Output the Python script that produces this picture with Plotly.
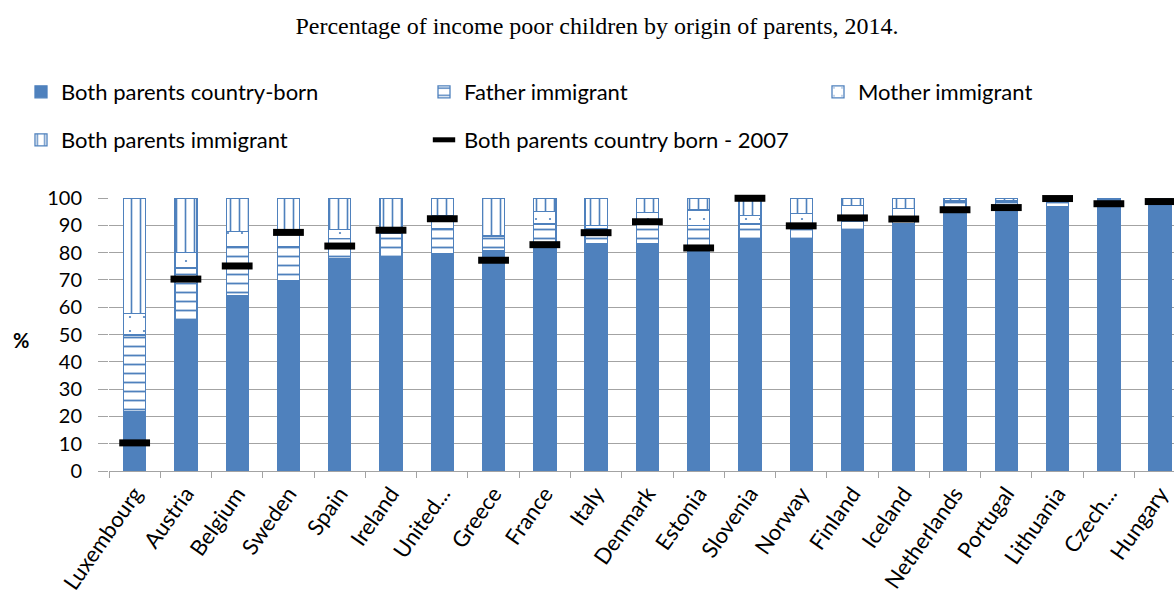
import plotly.graph_objects as go

# Share of income-poor children by parents' origin, 2014 (percent)
countries = ["Luxembourg", "Austria", "Belgium", "Sweden", "Spain", "Ireland", "United...",
             "Greece", "France", "Italy", "Denmark", "Estonia", "Slovenia", "Norway",
             "Finland", "Iceland", "Netherlands", "Portugal", "Lithuania", "Czech...", "Hungary"]
both_country_born = [21.8, 54.9, 64.3, 69.8, 77.8, 78.5, 79.8, 80.8, 81.7, 83.2, 83.3,
                     80.2, 85.0, 85.1, 88.1, 90.6, 95.0, 97.0, 96.7, 99.6, 99.7]
father_immigrant = [28.0, 19.5, 17.9, 12.4, 7.4, 8.5, 8.9, 5.2, 8.8, 5.5, 7.2,
                    9.7, 5.5, 3.9, 3.4, 2.4, 3.5, 1.5, 2.0, 0.4, 0.3]
mother_immigrant = [8.0, 5.7, 5.6, 6.3, 3.2, 1.5, 4.8, 0.3, 4.6, 1.2, 4.3,
                    5.7, 3.0, 5.4, 5.7, 3.1, 0.5, 0.5, 0.8, 0.0, 0.0]
both_immigrant = [42.2, 19.9, 12.2, 11.5, 11.6, 11.5, 6.5, 13.7, 4.9, 10.1, 5.2,
                  4.4, 6.5, 5.6, 2.8, 3.9, 1.0, 1.0, 0.5, 0.0, 0.0]
country_born_2007 = [10.3, 70.3, 75.1, 87.4, 82.4, 88.2, 92.4, 77.2, 82.9, 87.3, 91.3,
                     81.7, 99.9, 89.8, 92.7, 92.3, 95.7, 96.5, 99.8, 97.9, 98.7]
y_ticks = [0, 10, 20, 30, 40, 50, 60, 70, 80, 90, 100]

BLUE = "#4F81BD"
GRID = "#a3a3a3"
SANS = "Lato, 'Open Sans', sans-serif"

bar_w = 0.43
outline = dict(color=BLUE, width=1.3)

fig = go.Figure()
fig.add_trace(go.Bar(
    x=countries, y=both_country_born, name="Both parents country-born",
    width=bar_w, marker=dict(color=BLUE, line=outline), legend="legend"))
fig.add_trace(go.Bar(
    x=countries, y=father_immigrant, name="Father immigrant", width=bar_w,
    marker=dict(color=BLUE, line=outline,
                pattern=dict(shape="-", fillmode="replace", bgcolor="white",
                             fgcolor=BLUE, size=9, solidity=0.2)),
    legend="legend"))
fig.add_trace(go.Bar(
    x=countries, y=mother_immigrant, name="Mother immigrant", width=bar_w,
    marker=dict(color=BLUE, line=outline,
                pattern=dict(shape=".", fillmode="replace", bgcolor="white",
                             fgcolor=BLUE, size=14, solidity=0.02)),
    legend="legend3"))
fig.add_trace(go.Bar(
    x=countries, y=both_immigrant, name="Both parents immigrant", width=bar_w,
    marker=dict(color=BLUE, line=outline,
                pattern=dict(shape="|", fillmode="replace", bgcolor="white",
                             fgcolor=BLUE, size=9, solidity=0.18)),
    legend="legend2"))
fig.add_trace(go.Scatter(
    x=countries, y=country_born_2007, name="Both parents country born - 2007",
    mode="markers", cliponaxis=False,
    marker=dict(symbol="line-ew", size=22, color="black",
                line=dict(color="black", width=7)),
    legend="legend2"))

legend_font = dict(family=SANS, size=22, color="black")
legend_common = dict(orientation="h", xanchor="left", yanchor="middle",
                     font=legend_font, bgcolor="rgba(0,0,0,0)", traceorder="normal")


def px_x(px):
    return (px - 109) / 1065


row1 = 1 + (198 - 92) / 273
row2 = 1 + (198 - 140) / 273

fig.update_layout(
    width=1174, height=612,
    margin=dict(l=109, r=0, t=198, b=141),
    paper_bgcolor="white", plot_bgcolor="white",
    barmode="stack", bargap=0.57,
    title=dict(text="Percentage of income poor children by origin of parents, 2014.",
               x=597 / 1174, xanchor="center", y=1 - 26 / 612, yanchor="middle",
               font=dict(family="'Liberation Serif', 'Times New Roman', serif",
                         size=24, color="black")),
    legend=dict(x=px_x(21), y=row1, entrywidth=358, entrywidthmode="pixels",
                **legend_common),
    legend3=dict(x=px_x(818), y=row1, **legend_common),
    legend2=dict(x=px_x(21), y=row2, entrywidth=358, entrywidthmode="pixels",
                 **legend_common),
    xaxis=dict(type="category", range=[-0.5, 20.27], tickson="boundaries",
               ticks="outside", ticklen=6, tickcolor=GRID, tickwidth=1.3,
               showline=True, linecolor=GRID, linewidth=1.3,
               showgrid=False, tickangle=-55, automargin=False,
               tickfont=dict(family=SANS, size=22, color="black")),
    yaxis=dict(range=[0, 100], tickvals=y_ticks, ticks="outside", ticklen=10,
               tickcolor=GRID, tickwidth=1.3, showgrid=True, gridcolor=GRID,
               gridwidth=1.3, zeroline=False, showline=False, automargin=False,
               ticklabelstandoff=12,
               tickfont=dict(family=SANS, size=20, color="black")),
    annotations=[dict(text="<b>%</b>", xref="paper", yref="paper",
                      x=px_x(21), y=0.48, xanchor="center", yanchor="middle",
                      showarrow=False, font=dict(family=SANS, size=20, color="black"))],
)

fig.write_html("out.html")
